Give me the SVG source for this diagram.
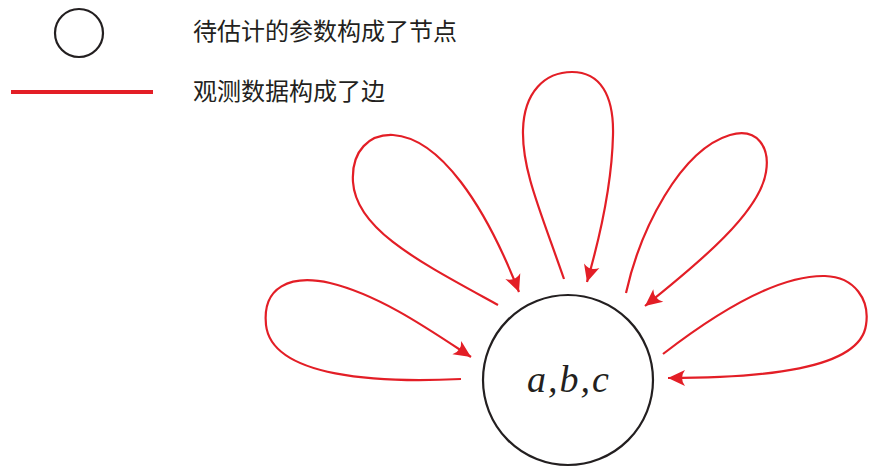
<svg xmlns="http://www.w3.org/2000/svg" width="880" height="475" viewBox="0 0 880 475">
<style>
.cjk{font-family:"Noto Sans CJK SC","Noto Sans",sans-serif;font-size:24px;fill:#231f20}
.edge{fill:none;stroke:#e31e26;stroke-width:2.2}
.node{fill:#fff;stroke:#231f20;stroke-width:2.2}
</style>
<defs>
<marker id="arr" markerUnits="userSpaceOnUse" markerWidth="20" markerHeight="20" viewBox="-18 -10 20 20" refX="0" refY="0" orient="auto">
<path d="M0,0 L-17,-8 Q-11,0 -17,8 Z" fill="#e31e26"/>
</marker>
</defs>
<rect width="880" height="475" fill="#fff"/>
<g id="legend">
<circle cx="79" cy="33" r="24" class="node"/>
<text x="193" y="40" class="cjk">待估计的参数构成了节点</text>
<line x1="11" y1="92" x2="153" y2="92" stroke="#e31e26" stroke-width="4"/>
<text x="193" y="100" class="cjk">观测数据构成了边</text>
</g>
<g id="edges">
<path class="edge" marker-end="url(#arr)" d="M461,379 C380,383 272,378 266,325 C262,287 290,274 330,283 C380,295 430,330 471,357"/>
<path class="edge" marker-end="url(#arr)" d="M498,305 C420,262 356,230 353,182 C351,150 370,134 393,135 C440,138 485,205 519,292"/>
<path class="edge" marker-end="url(#arr)" d="M564,279 C540,210 522,170 523,130 C524,92 545,72 572,72 C600,72 614,95 613,135 C612,180 602,230 587,282"/>
<path class="edge" marker-end="url(#arr)" d="M626,293 C640,230 680,150 730,135 C758,127 770,148 766,172 C760,212 700,262 645,306"/>
<path class="edge" marker-end="url(#arr)" d="M663,354 C720,310 780,275 825,276 C855,277 870,300 866,325 C860,370 760,378 668,378"/>
</g>
<g id="node-abc">
<circle cx="568" cy="380" r="85" class="node"/>
<text x="569" y="392" text-anchor="middle" font-family="Liberation Serif,serif" font-style="italic" font-size="38" letter-spacing="2" fill="#231f20">a,b,c</text>
</g>
</svg>
